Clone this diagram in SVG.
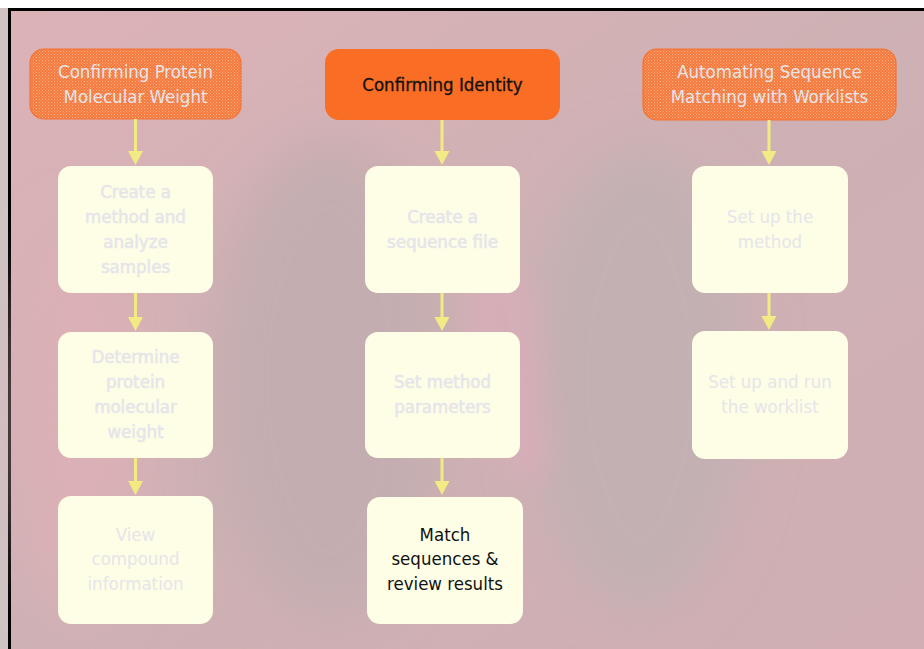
<svg xmlns="http://www.w3.org/2000/svg" width="924" height="649" viewBox="0 0 924 649">
<defs>
<style>
.hdr{fill:url(#dots);stroke:#f27235;stroke-width:1.2}
.hdrA{fill:#f96d24}
.box{fill:#fefde6}
.t{font-family:"DejaVu Sans Condensed","Liberation Sans",sans-serif;font-size:18.5px;text-anchor:middle}
.faint{fill:#e6e5ea}
.dark{fill:#111}
.bold{stroke:#e6e5ea;stroke-width:0.5}
.con line{stroke:#f2ea82;stroke-width:3}
.con polygon{fill:#f2ea82}
</style>
<pattern id="dots" width="3" height="3" patternUnits="userSpaceOnUse">
<rect width="3" height="3" fill="#f47a3c"/>
<rect width="1" height="1" fill="#fbb48f"/>
<rect x="1.5" y="1.5" width="1" height="1" fill="#f9a67c"/>
</pattern>
<linearGradient id="bg" x1="0" y1="0" x2="1" y2="1">
<stop offset="0" stop-color="#dcb2b7"/>
<stop offset="0.5" stop-color="#ceb1b4"/>
<stop offset="1" stop-color="#d0aeb3"/>
</linearGradient>
<filter id="blur" x="-50%" y="-50%" width="200%" height="200%"><feGaussianBlur stdDeviation="25"/></filter>
<filter id="blur2" x="-50%" y="-50%" width="200%" height="200%"><feGaussianBlur stdDeviation="12"/></filter>
</defs>
<rect width="924" height="649" fill="#ffffff"/>
<rect x="0" y="8" width="8" height="641" fill="#cfc3c4"/>
<rect x="8" y="8" width="916" height="641" fill="#000"/>
<rect x="11" y="11" width="913" height="638" fill="url(#bg)"/>
<g id="background">
<ellipse cx="330" cy="380" rx="120" ry="240" fill="#c4adb0" filter="url(#blur)"/>
<ellipse cx="640" cy="380" rx="110" ry="230" fill="#c3b0b3" filter="url(#blur)"/>
<ellipse cx="80" cy="420" rx="60" ry="200" fill="#dbb0b6" filter="url(#blur)"/>
<path d="M480 250 Q520 260 535 300 L550 460 Q540 490 515 475 L475 400 Q455 330 480 250 Z" fill="#d8adb8" opacity="0.8" filter="url(#blur2)"/>
</g>
<g id="node-h1"><rect class="hdr" x="30" y="49" width="211" height="70" rx="14"/>
<text class="t faint" x="135.5" y="78">Confirming Protein</text><text class="t faint" x="135.5" y="103">Molecular Weight</text></g>
<g id="node-h2"><rect class="hdrA" x="325" y="49" width="235" height="71" rx="14"/>
<text class="t dark" x="442.5" y="91" stroke="#111" stroke-width="0.3">Confirming Identity</text></g>
<g id="node-h3"><rect class="hdr" x="643" y="49" width="253" height="71" rx="14"/>
<text class="t faint" x="769.5" y="78">Automating Sequence</text><text class="t faint" x="769.5" y="103">Matching with Worklists</text></g>

<g id="node-c1a"><rect class="box" x="58" y="166" width="155" height="127" rx="13"/>
<text class="t faint bold" x="135.5" y="198">Create a</text><text class="t faint bold" x="135.5" y="223">method and</text><text class="t faint bold" x="135.5" y="248">analyze</text><text class="t faint bold" x="135.5" y="273">samples</text></g>
<g id="node-c1b"><rect class="box" x="58" y="332" width="155" height="126" rx="13"/>
<text class="t faint bold" x="135.5" y="363">Determine</text><text class="t faint bold" x="135.5" y="388">protein</text><text class="t faint bold" x="135.5" y="413">molecular</text><text class="t faint bold" x="135.5" y="438">weight</text></g>
<g id="node-c1c"><rect class="box" x="58" y="496" width="155" height="128" rx="13"/>
<text class="t faint" x="135.5" y="541">View</text><text class="t faint" x="135.5" y="565">compound</text><text class="t faint" x="135.5" y="590">information</text></g>

<g id="node-c2a"><rect class="box" x="365" y="166" width="155" height="127" rx="13"/>
<text class="t faint bold" x="442.5" y="223">Create a</text><text class="t faint bold" x="442.5" y="248">sequence file</text></g>
<g id="node-c2b"><rect class="box" x="365" y="332" width="155" height="126" rx="13"/>
<text class="t faint bold" x="442.5" y="388">Set method</text><text class="t faint bold" x="442.5" y="413">parameters</text></g>
<g id="node-c2c"><rect class="box" x="367" y="497" width="156" height="127" rx="13"/>
<text class="t dark" x="445" y="541">Match</text><text class="t dark" x="445" y="565">sequences &amp;</text><text class="t dark" x="445" y="590">review results</text></g>

<g id="node-c3a"><rect class="box" x="692" y="166" width="156" height="127" rx="13"/>
<text class="t faint" x="770" y="223">Set up the</text><text class="t faint" x="770" y="248">method</text></g>
<g id="node-c3b"><rect class="box" x="692" y="331" width="156" height="128" rx="13"/>
<text class="t faint" x="770" y="388">Set up and run</text><text class="t faint" x="770" y="413">the worklist</text></g>

<g id="connectors" class="con">
<line x1="135.5" y1="119" x2="135.5" y2="152"/><polygon points="128,151 143,151 135.5,165"/>
<line x1="135.5" y1="293" x2="135.5" y2="318"/><polygon points="128,317 143,317 135.5,331"/>
<line x1="135.5" y1="458" x2="135.5" y2="482"/><polygon points="128,481 143,481 135.5,495"/>
<line x1="442" y1="120" x2="442" y2="152"/><polygon points="434.5,151 449.5,151 442,165"/>
<line x1="442" y1="293" x2="442" y2="318"/><polygon points="434.5,317 449.5,317 442,331"/>
<line x1="442" y1="458" x2="442" y2="482"/><polygon points="434.5,481 449.5,481 442,495"/>
<line x1="769" y1="120" x2="769" y2="152"/><polygon points="761.5,151 776.5,151 769,165"/>
<line x1="769" y1="293" x2="769" y2="317"/><polygon points="761.5,316 776.5,316 769,330"/>
</g>
</svg>
